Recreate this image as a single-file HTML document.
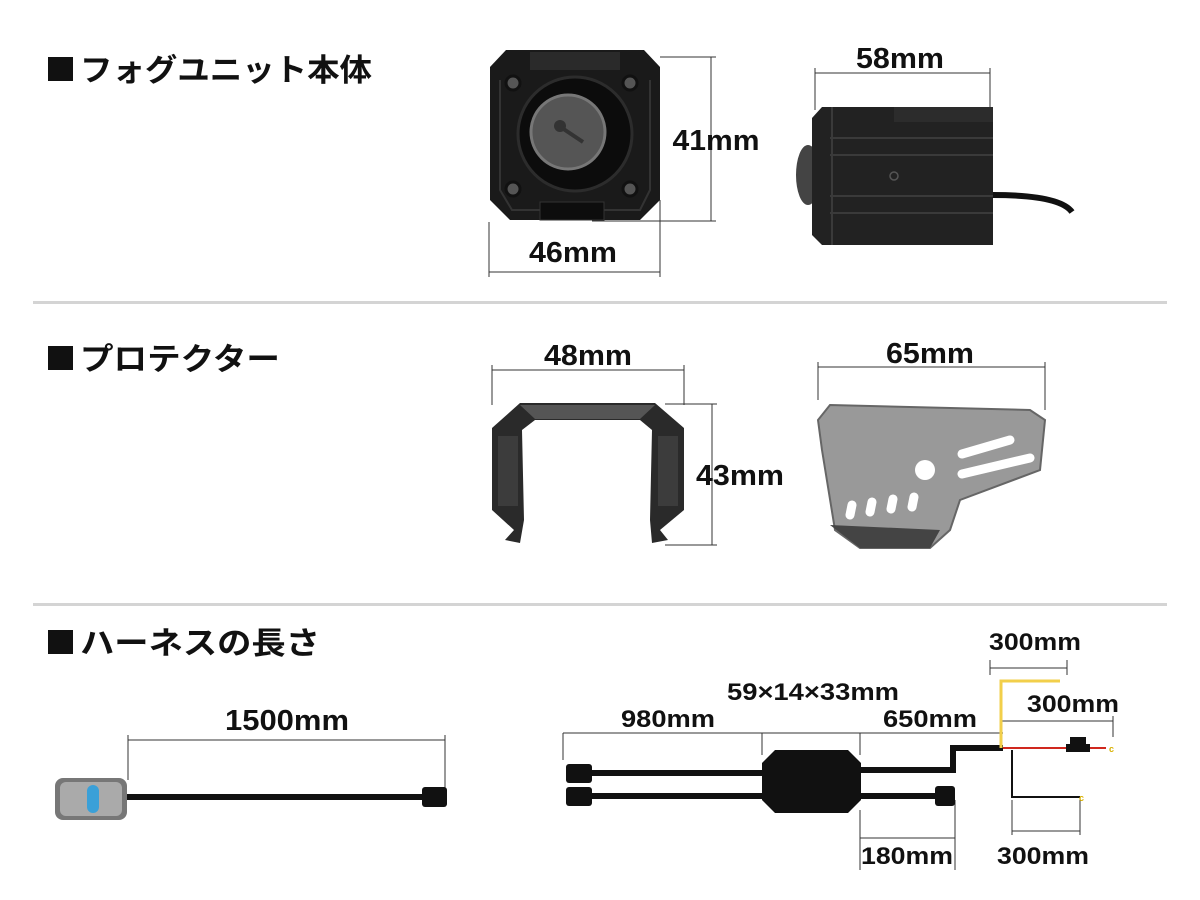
<!DOCTYPE html>
<html><head><meta charset="utf-8"><style>
html,body{margin:0;padding:0;background:#fff;}
svg{display:block;}
text{font-family:"Liberation Sans","Noto Sans CJK JP",sans-serif;font-weight:bold;fill:#111;}
</style></head><body>
<svg width="1200" height="900" viewBox="0 0 1200 900" xmlns="http://www.w3.org/2000/svg">
<!-- headings -->
<rect x="48" y="57" width="25" height="24" fill="#111"/>
<text x="80" y="81" font-size="31" textLength="292" lengthAdjust="spacingAndGlyphs">フォグユニット本体</text>
<rect x="48" y="346" width="25" height="24" fill="#111"/>
<text x="80" y="370" font-size="31" textLength="200" lengthAdjust="spacingAndGlyphs">プロテクター</text>
<rect x="48" y="630" width="25" height="24" fill="#111"/>
<text x="80" y="654" font-size="31" textLength="240" lengthAdjust="spacingAndGlyphs">ハーネスの長さ</text>
<!-- separators -->
<rect x="33" y="301" width="1134" height="3" fill="#d4d4d4"/>
<rect x="33" y="603" width="1134" height="3" fill="#d4d4d4"/>

<g stroke="#333" stroke-width="1" fill="none">
<line x1="660" y1="57" x2="716" y2="57"/><line x1="592" y1="221" x2="716" y2="221"/>
<line x1="711" y1="57" x2="711" y2="221"/>
<line x1="489" y1="222" x2="489" y2="277"/><line x1="660" y1="200" x2="660" y2="277"/>
<line x1="489" y1="272" x2="660" y2="272"/>
<line x1="815" y1="68" x2="815" y2="110"/><line x1="990" y1="68" x2="990" y2="118"/>
<line x1="815" y1="73" x2="990" y2="73"/>
<line x1="492" y1="365" x2="492" y2="405"/><line x1="684" y1="365" x2="684" y2="405"/>
<line x1="492" y1="370" x2="684" y2="370"/>
<line x1="665" y1="404" x2="717" y2="404"/><line x1="665" y1="545" x2="717" y2="545"/>
<line x1="712" y1="404" x2="712" y2="545"/>
<line x1="818" y1="362" x2="818" y2="400"/><line x1="1045" y1="362" x2="1045" y2="410"/>
<line x1="818" y1="367" x2="1045" y2="367"/>
<line x1="128" y1="735" x2="128" y2="780"/><line x1="445" y1="735" x2="445" y2="790"/>
<line x1="128" y1="740" x2="445" y2="740"/>
<line x1="563" y1="733" x2="1003" y2="733"/>
<line x1="563" y1="733" x2="563" y2="760"/><line x1="762" y1="733" x2="762" y2="755"/><line x1="860" y1="733" x2="860" y2="755"/>
<line x1="860" y1="810" x2="860" y2="870"/><line x1="955" y1="800" x2="955" y2="870"/>
<line x1="860" y1="838" x2="955" y2="838"/>
<line x1="990" y1="660" x2="990" y2="675"/><line x1="1067" y1="660" x2="1067" y2="675"/>
<line x1="990" y1="668" x2="1067" y2="668"/>
<line x1="1002" y1="721" x2="1113" y2="721"/><line x1="1113" y1="716" x2="1113" y2="737"/>
<line x1="1012" y1="800" x2="1012" y2="835"/><line x1="1080" y1="800" x2="1080" y2="835"/>
<line x1="1012" y1="831" x2="1080" y2="831"/>
</g>

<!-- fog front -->
<path d="M506 50 L644 50 L660 67 L660 200 L640 220 L510 220 L490 200 L490 67 Z" fill="#1a1a1a"/>
<path d="M500 80 L500 190 L512 210 L640 210 L650 190 L650 80" fill="none" stroke="#333" stroke-width="2"/>
<rect x="530" y="52" width="90" height="18" fill="#2a2a2a"/>
<rect x="540" y="202" width="64" height="18" fill="#0d0d0d" stroke="#333"/>
<circle cx="575" cy="134" r="57" fill="#0c0c0c" stroke="#2c2c2c" stroke-width="3"/>
<circle cx="568" cy="132" r="37" fill="#555"/>
<circle cx="568" cy="132" r="37" fill="none" stroke="#777" stroke-width="3"/>
<circle cx="560" cy="126" r="6" fill="#333"/>
<path d="M562 128 L583 142" stroke="#333" stroke-width="4"/>
<g fill="#555" stroke="#111" stroke-width="3">
<circle cx="513" cy="83" r="7"/><circle cx="630" cy="83" r="7"/><circle cx="513" cy="189" r="7"/><circle cx="630" cy="189" r="7"/>
</g>
<!-- fog side -->
<path d="M993 195 Q1060 195 1072 212" stroke="#111" stroke-width="6" fill="none"/>
<ellipse cx="808" cy="175" rx="12" ry="30" fill="#444"/>
<path d="M822 107 L993 107 L993 245 L822 245 L812 235 L812 118 Z" fill="#222"/>
<rect x="894" y="107" width="99" height="15" fill="#2c2c2c"/>
<g stroke="#3a3a3a" stroke-width="2"><line x1="830" y1="138" x2="993" y2="138"/><line x1="830" y1="155" x2="993" y2="155"/><line x1="830" y1="196" x2="993" y2="196"/><line x1="830" y1="213" x2="993" y2="213"/><line x1="832" y1="107" x2="832" y2="245"/></g>
<circle cx="894" cy="176" r="4" fill="none" stroke="#555" stroke-width="1.5"/>

<!-- protector front -->
<path d="M520 403 L655 403 L684 428 L684 510 L660 530 L668 540 L652 543 L650 520 L652 430 L640 420 L535 420 L522 430 L524 520 L520 543 L505 540 L514 530 L492 510 L492 428 Z" fill="#2a2a2a"/>
<path d="M520 405 L655 405 L640 419 L535 419 Z" fill="#555"/>
<rect x="498" y="436" width="20" height="70" fill="#3c3c3c"/>
<rect x="658" y="436" width="20" height="70" fill="#3c3c3c"/>
<!-- protector side -->
<path d="M830 405 L1030 410 L1045 420 L1040 470 L960 500 L950 530 L930 548 L860 548 L835 530 L822 450 L818 420 Z" fill="#999" stroke="#666" stroke-width="2"/>
<path d="M830 525 L940 530 L930 548 L860 548 Z" fill="#444"/>
<circle cx="925" cy="470" r="10" fill="#fff"/>
<g stroke="#fff" stroke-width="9" stroke-linecap="round">
<line x1="962" y1="454" x2="1010" y2="440"/><line x1="962" y1="474" x2="1030" y2="458"/>
<line x1="852" y1="505" x2="850" y2="515"/><line x1="872" y1="502" x2="870" y2="512"/><line x1="893" y1="499" x2="891" y2="509"/><line x1="914" y1="497" x2="912" y2="507"/>
</g>

<!-- harness left -->
<rect x="55" y="778" width="72" height="42" rx="8" fill="#777"/>
<rect x="60" y="782" width="62" height="34" rx="6" fill="#aaa"/>
<rect x="87" y="785" width="12" height="28" rx="6" fill="#3aa0d8"/>
<line x1="127" y1="797" x2="425" y2="797" stroke="#111" stroke-width="6"/>
<rect x="422" y="787" width="25" height="20" rx="3" fill="#111"/>

<!-- harness right -->
<g fill="#111">
<rect x="566" y="764" width="26" height="19" rx="3"/><rect x="566" y="787" width="26" height="19" rx="3"/>
<rect x="935" y="786" width="20" height="20" rx="3"/>
</g>
<g stroke="#111" stroke-width="6" fill="none">
<line x1="590" y1="773" x2="762" y2="773"/><line x1="590" y1="796" x2="762" y2="796"/>
<path d="M858 770 L953 770 L953 748 L1003 748"/>
<line x1="858" y1="796" x2="937" y2="796"/>
</g>
<path d="M775 750 L848 750 L861 763 L861 800 L848 813 L775 813 L762 800 L762 763 Z" fill="#111"/>
<path d="M1001 748 L1001 681 L1060 681" stroke="#f2cf4a" stroke-width="3" fill="none"/>
<line x1="1003" y1="748" x2="1106" y2="748" stroke="#d0281e" stroke-width="2"/>
<rect x="1070" y="737" width="16" height="8" fill="#111"/><rect x="1066" y="744" width="24" height="8" fill="#111"/>
<path d="M1012 750 L1012 797 L1080 797" stroke="#111" stroke-width="2" fill="none"/>
<text x="1109" y="752" font-size="9" style="fill:#d8b000">c</text>
<text x="1079" y="801" font-size="9" style="fill:#d8b000">c</text>

<!-- labels -->
<g font-size="29" text-anchor="middle">
<text x="716" y="150" textLength="87" lengthAdjust="spacingAndGlyphs">41mm</text>
<text x="573" y="262" textLength="88" lengthAdjust="spacingAndGlyphs">46mm</text>
<text x="900" y="68" textLength="88" lengthAdjust="spacingAndGlyphs">58mm</text>
<text x="588" y="365" textLength="88" lengthAdjust="spacingAndGlyphs">48mm</text>
<text x="740" y="485" textLength="88" lengthAdjust="spacingAndGlyphs">43mm</text>
<text x="930" y="363" textLength="88" lengthAdjust="spacingAndGlyphs">65mm</text>
<text x="287" y="730" textLength="124" lengthAdjust="spacingAndGlyphs">1500mm</text>
</g>
<g font-size="24" text-anchor="middle">
<text x="813" y="700" textLength="172" lengthAdjust="spacingAndGlyphs">59×14×33mm</text>
<text x="668" y="727" textLength="94" lengthAdjust="spacingAndGlyphs">980mm</text>
<text x="930" y="727" textLength="94" lengthAdjust="spacingAndGlyphs">650mm</text>
<text x="1035" y="650" textLength="92" lengthAdjust="spacingAndGlyphs">300mm</text>
<text x="1073" y="712" textLength="92" lengthAdjust="spacingAndGlyphs">300mm</text>
<text x="907" y="864" textLength="92" lengthAdjust="spacingAndGlyphs">180mm</text>
<text x="1043" y="864" textLength="92" lengthAdjust="spacingAndGlyphs">300mm</text>
</g>
</svg>
</body></html>
